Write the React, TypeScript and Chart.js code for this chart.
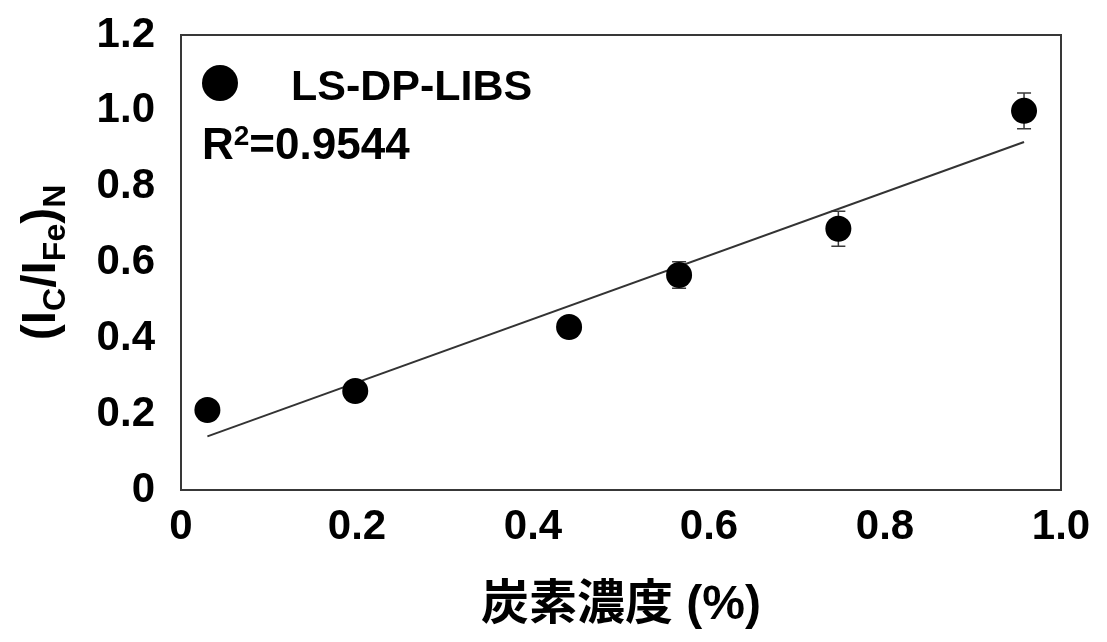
import React, { useEffect, useRef } from "react";
import { Chart, registerables } from "chart.js";

Chart.register(...registerables);

// Carbon concentration (%) of each sample and the normalised C/Fe line ratio
const carbonPct = [0.03, 0.198, 0.441, 0.566, 0.747, 0.958];
const ratioCFe = [0.211, 0.261, 0.43, 0.567, 0.689, 1.0];
const ratioErr = [0.012, 0.015, 0.02, 0.035, 0.046, 0.047];

const xTicks = [0, 0.2, 0.4, 0.6, 0.8, 1.0];
const xTickLabels = ["0", "0.2", "0.4", "0.6", "0.8", "1.0"];
const yTicks = [0, 0.2, 0.4, 0.6, 0.8, 1.0, 1.2];
const yTickLabels = ["0", "0.2", "0.4", "0.6", "0.8", "1.0", "1.2"];

const seriesName = "LS-DP-LIBS";
const r2Text = "0.9544";
const xTitle = "炭素濃度 (%)";

const FONT = '"Liberation Sans", "Noto Sans CJK JP", Arial, sans-serif';

// least-squares fit drawn as the trend line
function linearFit(xs: number[], ys: number[]) {
  const n = xs.length;
  const mx = xs.reduce((a, b) => a + b, 0) / n;
  const my = ys.reduce((a, b) => a + b, 0) / n;
  let sxy = 0;
  let sxx = 0;
  for (let i = 0; i < n; i++) {
    sxy += (xs[i] - mx) * (ys[i] - my);
    sxx += (xs[i] - mx) * (xs[i] - mx);
  }
  const slope = sxy / sxx;
  return { slope, intercept: my - slope * mx };
}

const framePlugin = {
  id: "frame",
  beforeDatasetsDraw(chart: any) {
    const { ctx, chartArea } = chart;
    ctx.save();
    ctx.strokeStyle = "#383838";
    ctx.lineWidth = 2;
    ctx.strokeRect(chartArea.left, chartArea.top, chartArea.right - chartArea.left, chartArea.bottom - chartArea.top);
    ctx.restore();
  },
};

const errorBarPlugin = {
  id: "errorBars",
  beforeDatasetsDraw(chart: any) {
    const { ctx, scales } = chart;
    const xs = scales.x;
    const ys = scales.y;
    ctx.save();
    ctx.strokeStyle = "#3a3a3a";
    ctx.lineWidth = 1.5;
    carbonPct.forEach((cx, i) => {
      const px = xs.getPixelForValue(cx);
      const top = ys.getPixelForValue(ratioCFe[i] + ratioErr[i]);
      const bot = ys.getPixelForValue(ratioCFe[i] - ratioErr[i]);
      ctx.beginPath();
      ctx.moveTo(px, top);
      ctx.lineTo(px, bot);
      ctx.moveTo(px - 7, top);
      ctx.lineTo(px + 7, top);
      ctx.moveTo(px - 7, bot);
      ctx.lineTo(px + 7, bot);
      ctx.stroke();
    });
    ctx.restore();
  },
};

const annotationPlugin = {
  id: "annotations",
  afterDraw(chart: any) {
    const { ctx, chartArea } = chart;
    ctx.save();
    ctx.fillStyle = "#000";
    ctx.textBaseline = "alphabetic";
    ctx.textAlign = "left";

    // legend entry
    ctx.beginPath();
    ctx.arc(220, 83, 18, 0, Math.PI * 2);
    ctx.fill();
    ctx.font = `bold 43px ${FONT}`;
    ctx.fillText(seriesName, 291, 100);

    // coefficient of determination
    let x = 202;
    ctx.font = `bold 44px ${FONT}`;
    ctx.fillText("R", x, 159);
    x += ctx.measureText("R").width;
    ctx.font = `bold 28px ${FONT}`;
    ctx.fillText("2", x, 145);
    x += ctx.measureText("2").width;
    ctx.font = `bold 44px ${FONT}`;
    ctx.fillText("=" + r2Text, x, 159);

    // rotated y-axis title with subscripts
    const parts: [string, boolean][] = [
      ["(", false], ["I", false], ["C", true], ["/", false],
      ["I", false], ["Fe", true], [")", false], ["N", true],
    ];
    const mainFont = `bold 48px ${FONT}`;
    const subFont = `bold 32px ${FONT}`;
    let total = 0;
    const widths = parts.map(([t, sub]) => {
      ctx.font = sub ? subFont : mainFont;
      const w = ctx.measureText(t).width;
      total += w;
      return w;
    });
    const cy = (chartArea.top + chartArea.bottom) / 2;
    ctx.translate(55, cy);
    ctx.rotate(-Math.PI / 2);
    let pos = -total / 2;
    parts.forEach(([t, sub], i) => {
      ctx.font = sub ? subFont : mainFont;
      ctx.fillText(t, pos, sub ? 10 : 0);
      pos += widths[i];
    });
    ctx.restore();
  },
};

export default function App() {
  const canvasRef = useRef<HTMLCanvasElement | null>(null);

  useEffect(() => {
    if (!canvasRef.current) return;
    const fit = linearFit(carbonPct, ratioCFe);
    const x0 = carbonPct[0];
    const x1 = carbonPct[carbonPct.length - 1];

    const chart = new Chart(canvasRef.current, {
      type: "scatter",
      data: {
        datasets: [
          {
            label: seriesName,
            data: carbonPct.map((c, i) => ({ x: c, y: ratioCFe[i] })),
            backgroundColor: "#000",
            borderWidth: 0,
            pointRadius: 13,
            pointHoverRadius: 13,
          },
          {
            type: "line",
            label: "fit",
            data: [
              { x: x0, y: fit.intercept + fit.slope * x0 },
              { x: x1, y: fit.intercept + fit.slope * x1 },
            ],
            borderColor: "#333",
            borderWidth: 2,
            pointRadius: 0,
            fill: false,
          } as any,
        ],
      },
      options: {
        responsive: false,
        animation: false,
        layout: { padding: { left: 0, top: 35, right: 46, bottom: 0 } },
        plugins: {
          legend: { display: false },
          tooltip: { enabled: false },
        },
        scales: {
          x: {
            type: "linear",
            min: 0,
            max: 1.0,
            grid: { display: false, drawTicks: false },
            border: { display: false },
            afterBuildTicks: (s: any) => {
              s.ticks = xTicks.map((v) => ({ value: v }));
            },
            afterFit: (s: any) => {
              s.height = 152;
              s.paddingLeft = 0;
              s.paddingRight = 0;
            },
            ticks: {
              padding: 12,
              color: "#000",
              maxRotation: 0,
              autoSkip: false,
              font: { family: FONT, size: 42, weight: "bold" },
              callback: (_v: any, i: number) => xTickLabels[i],
            },
            title: {
              display: true,
              text: xTitle,
              color: "#000",
              font: { family: FONT, size: 48, weight: "bold" },
              padding: { top: 0, bottom: 7 },
            },
          },
          y: {
            type: "linear",
            min: 0,
            max: 1.2,
            grid: { display: false, drawTicks: false },
            border: { display: false },
            afterBuildTicks: (s: any) => {
              s.ticks = yTicks.map((v) => ({ value: v }));
            },
            afterFit: (s: any) => {
              s.width = 181;
              s.paddingTop = 0;
              s.paddingBottom = 0;
            },
            ticks: {
              padding: 26,
              color: "#000",
              autoSkip: false,
              font: { family: FONT, size: 42, weight: "bold" },
              callback: (_v: any, i: number) => yTickLabels[i],
            },
          },
        },
      },
      plugins: [framePlugin, errorBarPlugin, annotationPlugin],
    });
    return () => chart.destroy();
  }, []);

  return (
    <div style={{ position: "fixed", left: 0, top: 0, width: 1107, height: 642, background: "#fff" }}>
      <canvas ref={canvasRef} width={1107} height={642} />
    </div>
  );
}
